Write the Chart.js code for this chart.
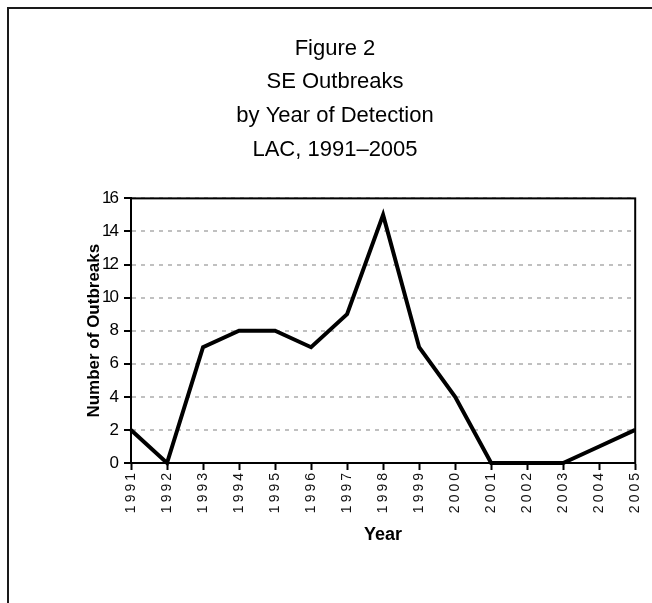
<!DOCTYPE html>
<html>
<head>
<meta charset="utf-8">
<script src="https://cdn.jsdelivr.net/npm/chart.js@4.4.1/dist/chart.umd.min.js"></script>
<style>
    html, body { margin: 0; padding: 0; background: #fff; overflow: hidden; }
    #wrap { position: relative; width: 652px; height: 603px; }
    #frame { position: absolute; left: 7px; top: 7px; width: 700px; height: 700px; border: 2px solid #1a1a1a; }
    canvas { position: absolute; left: 0; top: 0; }
</style>
</head>
<body>
<div id="wrap">
    <div id="frame"></div>
    <canvas id="chart" width="652" height="603"></canvas>
</div>
<script>
// Values
const years = ['1991', '1992', '1993', '1994', '1995', '1996', '1997', '1998',
               '1999', '2000', '2001', '2002', '2003', '2004', '2005'];
const outbreaks = [2, 0, 7, 8, 8, 7, 9, 15, 7, 4, 0, 0, 0, 1, 2];
const titleLines = ['Figure 2', 'SE Outbreaks', 'by Year of Detection', 'LAC, 1991\u20132005'];
const yMin = 0, yMax = 16, yStep = 2;

const FONT = '"Liberation Sans", Arial, sans-serif';
const PAD_LEFT = 33; // shifts the centred title to the right, like the original

// box round the plot area, drawn under the line
const plotFrame = {
    id: 'plotFrame',
    beforeDatasetsDraw(chart) {
        const { ctx, chartArea: a } = chart;
        ctx.save();
        ctx.strokeStyle = '#000';
        ctx.lineWidth = 2;
        ctx.strokeRect(a.left, a.top, a.right - a.left, a.bottom - a.top);
        ctx.restore();
    }
};

// the tick labels are spaced out (x) or squeezed (y) in the original
const spacedLabels = {
    id: 'spacedLabels',
    beforeDraw(chart) {
        [['x', '3px'], ['y', '-2px']].forEach(([id, sp]) => {
            const s = chart.scales[id];
            if (s._spaced) return;
            const orig = s.drawLabels;
            s.drawLabels = function (area) {
                this.ctx.save();
                this.ctx.letterSpacing = sp;
                orig.call(this, area);
                this.ctx.restore();
            };
            s._spaced = true;
        });
    }
};

const ctx = document.getElementById('chart').getContext('2d');
new Chart(ctx, {
    type: 'line',
    data: {
        labels: years,
        datasets: [{
            label: 'Outbreaks',
            data: outbreaks,
            borderColor: '#000',
            borderWidth: 4,
            pointRadius: 0,
            tension: 0,
            fill: false,
            clip: false
        }]
    },
    options: {
        responsive: false,
        animation: false,
        devicePixelRatio: 1,
        layout: { padding: { left: PAD_LEFT, right: 15, top: 0, bottom: 0 } },
        plugins: {
            legend: { display: false },
            tooltip: { enabled: false },
            title: {
                display: true,
                text: titleLines,
                color: '#000',
                font: { family: FONT, size: 22, weight: 'normal', lineHeight: 1.527 },
                padding: { top: 32, bottom: 32 }
            }
        },
        scales: {
            x: {
                offset: false,
                afterFit(scale) { scale.height = 140; },
                grid: { drawOnChartArea: false, drawTicks: true, tickLength: 7, tickColor: '#000', tickWidth: 2 },
                border: { display: true, color: '#000', width: 2 },
                ticks: {
                    color: '#111',
                    maxRotation: 90,
                    minRotation: 90,
                    autoSkip: false,
                    padding: 0,
                    font: { family: FONT, size: 14 }
                },
                title: {
                    display: true,
                    text: 'Year',
                    color: '#000',
                    font: { family: FONT, size: 18, weight: 'bold' },
                    padding: { top: 0, bottom: 57 }
                }
            },
            y: {
                min: yMin,
                max: yMax,
                afterFit(scale) { scale.width = 131 - PAD_LEFT; },
                grid: {
                    color: '#c0c0c0',
                    lineWidth: 2,
                    tickLength: 7,
                    tickColor: '#000',
                    tickWidth: 2,
                    tickBorderDash: []
                },
                border: { display: true, color: '#000', width: 2, dash: [4, 5] },
                ticks: {
                    stepSize: yStep,
                    color: '#000',
                    padding: 7,
                    font: { family: FONT, size: 17 }
                },
                title: {
                    display: true,
                    text: 'Number of Outbreaks',
                    color: '#000',
                    font: { family: FONT, size: 17, weight: 'bold' },
                    padding: { top: 51, bottom: 0 }
                }
            }
        }
    },
    plugins: [plotFrame, spacedLabels]
});
</script>
</body>
</html>
